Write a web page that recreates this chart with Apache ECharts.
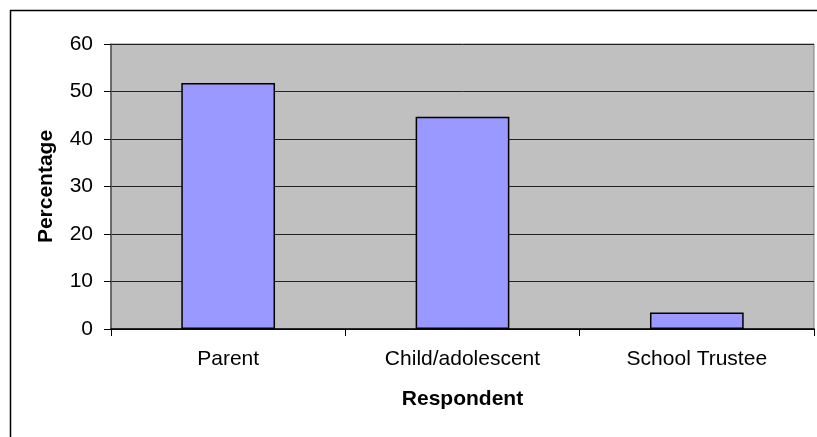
<!DOCTYPE html>
<html>
<head>
<meta charset="utf-8">
<script src="https://cdn.jsdelivr.net/npm/echarts@6/dist/echarts.min.js"></script>
<style>
html,body{margin:0;padding:0;background:#fff;}
#chart{width:817px;height:437px;}
</style>
</head>
<body>
<div id="chart"></div>
<script>
var categories = ['Parent', 'Child/adolescent', 'School Trustee'];
var percentages = [51.8, 44.7, 3.5];
var yTicks = [0, 10, 20, 30, 40, 50, 60];
var xName = 'Respondent';
var yName = 'Percentage';

var chart = echarts.init(document.getElementById('chart'), null, {renderer: 'canvas'});
var font = '"Liberation Sans", Arial, sans-serif';
chart.setOption({
  animation: false,
  backgroundColor: '#fff',
  graphic: [{
    type: 'rect', left: 8, top: 8, z: -10,
    shape: {width: 900, height: 500},
    style: {fill: 'none', stroke: '#000', lineWidth: 1.5}
  }],
  grid: {
    left: 111, top: 44, right: 3, bottom: 108,
    show: true, backgroundColor: '#c0c0c0', borderColor: '#808080', borderWidth: 1
  },
  xAxis: {
    type: 'category',
    data: categories,
    name: xName,
    nameLocation: 'middle',
    nameGap: 60,
    nameTextStyle: {fontFamily: font, fontSize: 21, fontWeight: 'bold', color: '#000'},
    axisLine: {lineStyle: {color: '#000', width: 1.5}},
    axisTick: {show: true, length: 7, alignWithLabel: false, lineStyle: {color: '#000'}},
    axisLabel: {fontFamily: font, fontSize: 21, color: '#000', margin: 20},
    splitLine: {show: false}
  },
  yAxis: {
    type: 'value',
    min: yTicks[0], max: yTicks[yTicks.length - 1], interval: 10,
    name: yName,
    nameLocation: 'middle',
    nameGap: 54,
    nameTextStyle: {fontFamily: font, fontSize: 21, fontWeight: 'bold', color: '#000'},
    axisLine: {show: true, lineStyle: {color: '#555', width: 1.5}},
    axisTick: {show: true, length: 7, lineStyle: {color: '#000'}},
    axisLabel: {fontFamily: font, fontSize: 21, color: '#000', margin: 18},
    splitLine: {show: true, lineStyle: {color: '#222', width: 1}}
  },
  series: [{
    type: 'bar',
    data: percentages,
    barWidth: '40%',
    itemStyle: {color: '#9999ff', borderColor: '#000', borderWidth: 1.5}
  }]
});
</script>
</body>
</html>
